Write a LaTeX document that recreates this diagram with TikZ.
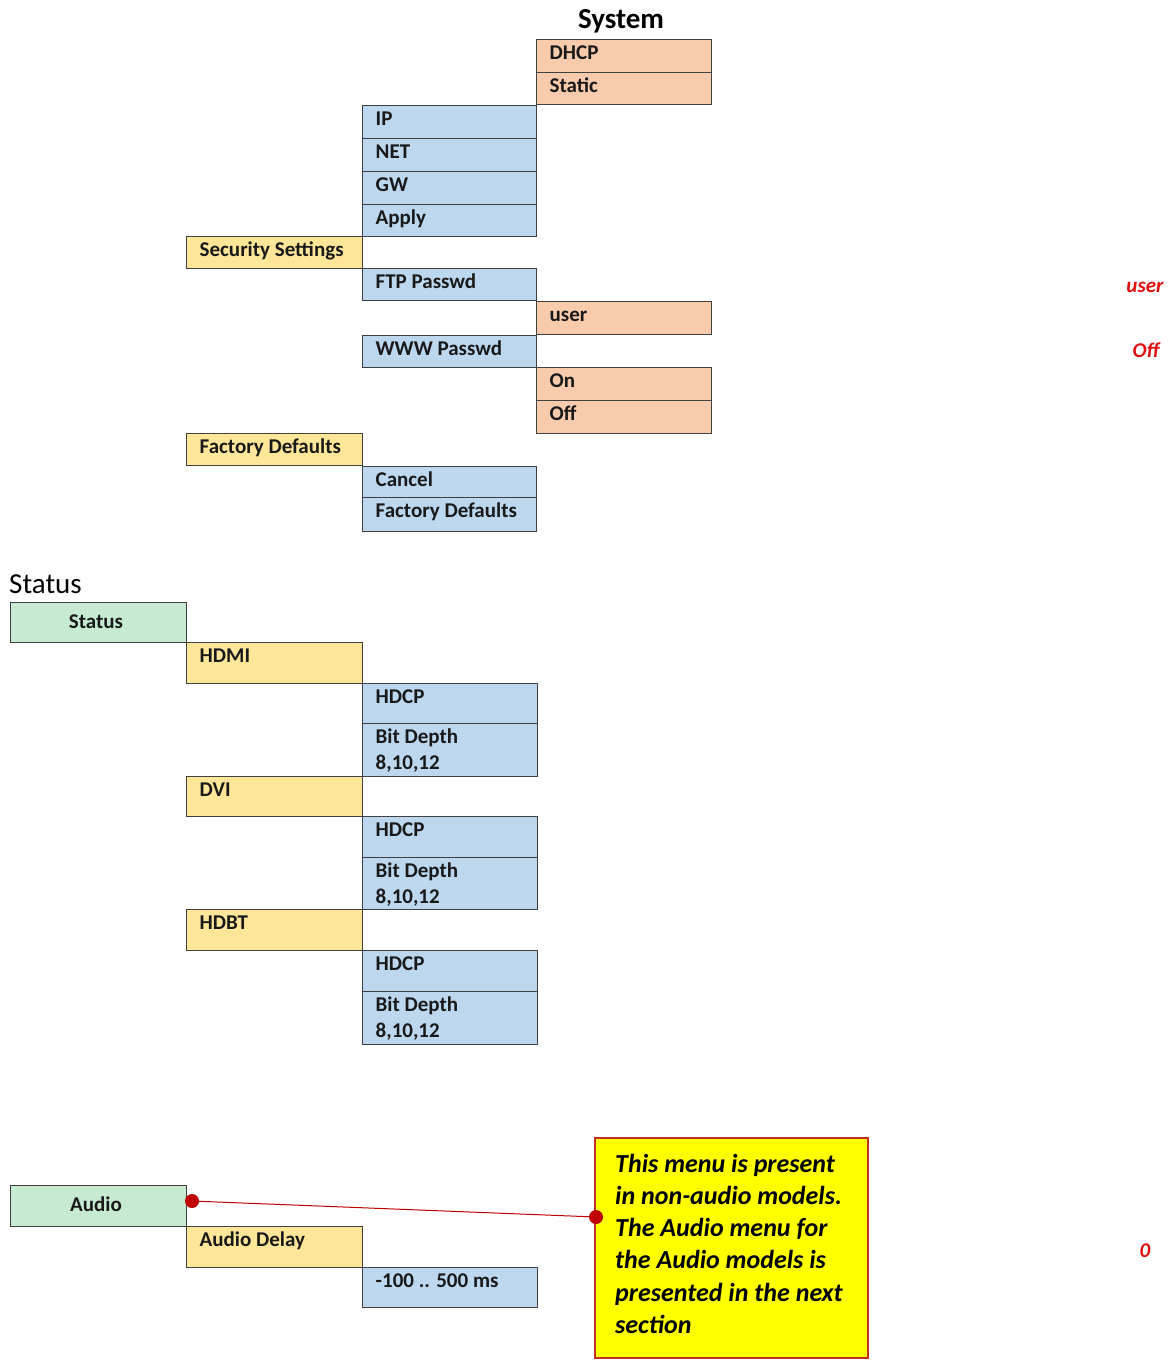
\documentclass[tikz,border=0pt]{standalone}
\usepackage{fontspec}
\setmainfont{Carlito}
\usetikzlibrary{fit}
\definecolor{orng}{HTML}{F8CBAD}
\definecolor{blu}{HTML}{BDD7EE}
\definecolor{ylw}{HTML}{FFE699}
\definecolor{grn}{HTML}{C6EBD0}
\definecolor{noteY}{HTML}{FFFF00}
\definecolor{noteB}{HTML}{C0302A}
\definecolor{redtxt}{HTML}{E01010}
\definecolor{dotred}{HTML}{C00000}
\tikzset{
  mbox/.style={draw=black!75, line width=1pt, inner sep=0pt},
  lbl/.style={anchor=base west, inner sep=0pt, font=\fontsize{21}{26}\selectfont\bfseries, text=black!90},
  clbl/.style={anchor=base, inner sep=0pt, font=\fontsize{21}{26}\selectfont\bfseries, text=black!90},
  redlbl/.style={anchor=base, inner sep=0pt, font=\fontsize{21}{24}\selectfont\bfseries\itshape, text=redtxt},
  dotnode/.style={circle, fill=dotred, inner sep=0pt, minimum size=14pt},
}
% name, x1, y1, x2, y2, colour, text
\newcommand\menub[7]{%
  \node[mbox, fill=#6, fit={(#2,#3)(#4,#5)}] (#1) {};
  \node[lbl] (#1t) at ([xshift=14pt,yshift=-21pt]#1.north west) {\parbox[t]{160pt}{\raggedright #7}};
}
\begin{document}
\begin{tikzpicture}[x=1pt,y=-1pt]
\useasboundingbox (0,0) rectangle (1170,1365);
% ---------- System ----------
\node[anchor=base, inner sep=0pt, font=\fontsize{29}{34}\selectfont\bfseries] (systitle) at (621,28) {System};
\menub{dhcp}{536}{39}{711}{72}{orng}{DHCP}
\menub{static}{536}{72}{711}{104}{orng}{Static}
\menub{ip}{362}{105}{536}{138}{blu}{IP}
\menub{net}{362}{138}{536}{171}{blu}{NET}
\menub{gw}{362}{171}{536}{204}{blu}{GW}
\menub{apply}{362}{204}{536}{236}{blu}{Apply}
\menub{sec}{186}{236}{362}{268}{ylw}{Security Settings}
\menub{ftp}{362}{268}{536}{300}{blu}{FTP Passwd}
\menub{user}{536}{301}{711}{334}{orng}{user}
\menub{www}{362}{335}{536}{367}{blu}{WWW Passwd}
\menub{on}{536}{367}{711}{400}{orng}{On}
\menub{off}{536}{400}{711}{433}{orng}{Off}
\menub{fdy}{186}{433}{362}{465}{ylw}{Factory Defaults}
\menub{cancel}{362}{466}{536}{497}{blu}{Cancel}
\menub{fdb}{362}{497}{536}{531}{blu}{Factory Defaults}
% ---------- Status ----------
\node[anchor=base west, inner sep=0pt, font=\fontsize{29}{34}\selectfont] (stattitle) at (9,593) {Status};
\node[mbox, fill=grn, fit={(10,602)(186,642)}] (status) {};
\node[clbl] (statust) at (96,628) {Status};
\menub{hdmi}{186}{642}{362}{683}{ylw}{HDMI}
\menub{hdcpa}{362}{683}{537}{723}{blu}{HDCP}
\menub{bda}{362}{723}{537}{776}{blu}{Bit Depth\\8,10,12}
\menub{dvi}{186}{776}{362}{816}{ylw}{DVI}
\menub{hdcpb}{362}{816}{537}{857}{blu}{HDCP}
\menub{bdb}{362}{857}{537}{909}{blu}{Bit Depth\\8,10,12}
\menub{hdbt}{186}{909}{362}{950}{ylw}{HDBT}
\menub{hdcpc}{362}{950}{537}{991}{blu}{HDCP}
\menub{bdc}{362}{991}{537}{1044}{blu}{Bit Depth\\8,10,12}
% ---------- Audio ----------
\node[mbox, fill=grn, fit={(10,1185)(186,1226)}] (audio) {};
\node[clbl] (audiot) at (96,1211) {Audio};
\menub{adelay}{186}{1226}{362}{1267}{ylw}{Audio Delay}
\menub{arange}{362}{1267}{537}{1307}{blu}{-100 .. 500 ms}
\node[draw=noteB, line width=1.5pt, fill=noteY, inner sep=0pt, fit={(595,1138)(868,1358)}] (note) {};
\node[anchor=base west, inner sep=0pt, font=\fontsize{26}{32.3}\selectfont\bfseries\itshape] (notet) at (615,1172) {\parbox[t]{250pt}{\raggedright This menu is present\\in non-audio models.\\The Audio menu for\\the Audio models is\\presented in the next\\section}};
\node[dotnode] (d1) at (192,1201) {};
\node[dotnode] (d2) at (596,1217) {};
\draw[dotred, line width=1pt] (d1) -- (d2);
% ---------- red side labels ----------
\node[redlbl] (ruser) at (1145,292) {user};
\node[redlbl] (roff) at (1146,357) {Off};
\node[redlbl] (rzero) at (1145,1257) {0};
\end{tikzpicture}
\end{document}
